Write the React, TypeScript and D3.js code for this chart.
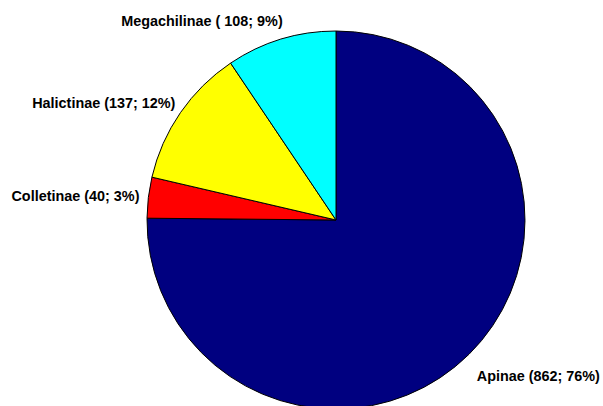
import React, { useRef, useEffect } from 'react';
import * as d3 from 'd3';

// subfamily counts (Apinae starts at 12 o'clock, going clockwise)
const subfamilies = ['Apinae', 'Colletinae', 'Halictinae', 'Megachilinae'];
const counts = [862, 40, 137, 108];
const labels = ['Apinae (862; 76%)', 'Colletinae (40; 3%)', 'Halictinae (137; 12%)', 'Megachilinae ( 108; 9%)'];
const colors = ['#000080', '#ff0000', '#ffff00', '#00ffff'];

const App = () => {
  const svgRef = useRef<SVGSVGElement>(null);

  useEffect(() => {
    const width = 603;
    const height = 406;
    const cx = 336;
    const cy = 220;
    const radius = 189;
    const labelRadius = 200;
    // small nudges for the text labels
    const nudge = [[0, 14], [2, 0], [4, -3], [5, -8]];

    const svg = d3.select(svgRef.current);
    svg.selectAll('*').remove();
    svg.attr('width', width).attr('height', height);

    const g = svg.append('g').attr('transform', `translate(${cx},${cy})`);

    const pie = d3.pie<number>().sort(null).startAngle(0).endAngle(2 * Math.PI);
    const arcs = pie(counts);

    const arc = d3.arc<d3.PieArcDatum<number>>().innerRadius(0).outerRadius(radius);

    g.selectAll('path')
      .data(arcs)
      .enter().append('path')
      .attr('d', arc)
      .attr('fill', (d, i) => colors[i])
      .attr('stroke', '#000')
      .attr('stroke-width', 1)
      .attr('stroke-linejoin', 'round');

    g.selectAll('text')
      .data(arcs)
      .enter().append('text')
      .attr('x', (d, i) => labelRadius * Math.sin((d.startAngle + d.endAngle) / 2) + nudge[i][0])
      .attr('y', (d, i) => -labelRadius * Math.cos((d.startAngle + d.endAngle) / 2) + nudge[i][1])
      .attr('dy', '0.35em')
      .attr('text-anchor', d => (Math.sin((d.startAngle + d.endAngle) / 2) < 0 ? 'end' : 'start'))
      .attr('font-family', 'Arial, "Liberation Sans", sans-serif')
      .attr('font-weight', 'bold')
      .attr('font-size', 14.4)
      .attr('fill', '#000')
      .text((d, i) => labels[i]);
  }, []);

  return (
    <svg ref={svgRef} style={{ position: 'absolute', left: 0, top: 0, background: '#fff' }} data-names={subfamilies.join(',')}></svg>
  );
};

export default App;
